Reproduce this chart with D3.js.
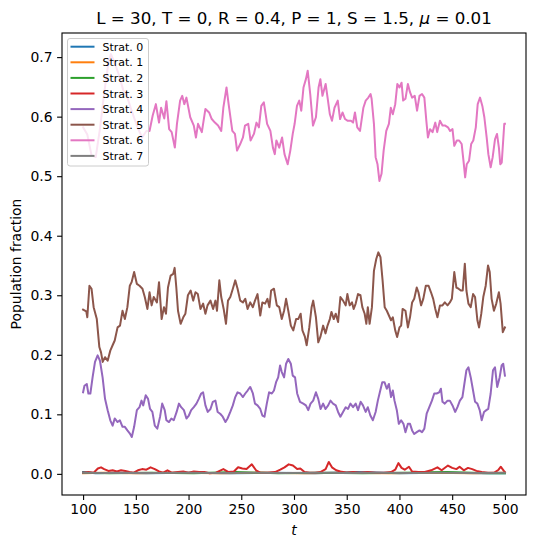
<!DOCTYPE html>
<html>
<head>
<meta charset="utf-8">
<script src="https://cdn.jsdelivr.net/npm/d3@7"></script>
<style>
  body { margin: 0; background: #fff; }
  text { font-family: "DejaVu Sans", sans-serif; }
</style>
</head>
<body>
<div id="chart"></div>
<script>
// series: [t, population fraction]
var strat0 = [[100,0.003],[112,0.001],[130,0.002],[160,0.001],[200,0.002],[240,0.001],[280,0.002],[320,0.001],[360,0.003],[400,0.001],[440,0.002],[480,0.001],[500,0.001]];
var strat1 = [[100,0.001],[120,0.002],[150,0.001],[190,0.002],[230,0.001],[270,0.002],[310,0.001],[350,0.002],[390,0.001],[430,0.002],[470,0.001],[500,0.002]];
var strat2 = [[100,0.002],[125,0.001],[165,0.002],[205,0.001],[245,0.003],[285,0.001],[325,0.002],[365,0.001],[405,0.002],[445,0.003],[485,0.001],[500,0.001]];
var strat3 = [[100,0.002],[105,0.003],[110,0.002],[114,0.009],[117,0.011],[120,0.008],[124,0.005],[128,0.006],[132,0.004],[136,0.006],[140,0.005],[144,0.003],[148,0.002],[152,0.006],[156,0.008],[160,0.007],[164,0.011],[168,0.008],[172,0.004],[176,0.002],[180,0.006],[184,0.002],[190,0.003],[195,0.004],[200,0.002],[205,0.004],[210,0.003],[215,0.003],[220,0.001],[226,0.002],[233,0.008],[238,0.003],[243,0.004],[247,0.011],[251,0.009],[255,0.008],[260,0.016],[264,0.006],[268,0.002],[275,0.002],[282,0.003],[287,0.007],[291,0.011],[295,0.016],[299,0.014],[303,0.008],[306,0.009],[310,0.003],[315,0.002],[320,0.002],[325,0.003],[330,0.008],[333,0.020],[336,0.011],[340,0.006],[344,0.004],[350,0.002],[356,0.003],[362,0.002],[370,0.003],[378,0.002],[385,0.002],[392,0.003],[396,0.007],[399,0.018],[402,0.010],[405,0.007],[409,0.012],[412,0.004],[418,0.003],[424,0.003],[430,0.006],[436,0.011],[440,0.006],[446,0.014],[450,0.010],[454,0.008],[457,0.012],[461,0.006],[465,0.010],[469,0.008],[473,0.005],[478,0.003],[484,0.002],[490,0.002],[494,0.007],[496,0.012],[499,0.005],[500,0.003]];
var strat4 = [[100,0.137],[101.3,0.148],[103.5,0.151],[105,0.135],[106.9,0.135],[109,0.162],[111.3,0.188],[113.8,0.199],[116,0.190],[118.5,0.162],[120.8,0.126],[123.3,0.107],[125.8,0.090],[128,0.081],[130,0.093],[132.7,0.087],[134.9,0.090],[137.4,0.079],[139.6,0.079],[142,0.073],[144.6,0.067],[146.2,0.062],[148.4,0.079],[151,0.107],[153.5,0.112],[155.4,0.123],[157,0.115],[159.4,0.132],[161.6,0.126],[163.5,0.109],[165.7,0.104],[168,0.081],[170.4,0.076],[173,0.096],[175,0.118],[177.4,0.107],[179,0.090],[181.4,0.087],[183.7,0.093],[186,0.090],[188.7,0.104],[190.9,0.118],[193,0.112],[195.6,0.107],[198,0.093],[200.3,0.098],[202.5,0.107],[205,0.112],[207.5,0.118],[209.7,0.126],[212,0.135],[213.8,0.137],[216,0.115],[218.2,0.104],[220.8,0.109],[223,0.121],[225.5,0.123],[227.6,0.104],[230,0.101],[232.4,0.096],[235,0.087],[237,0.093],[239.6,0.104],[242,0.115],[244.3,0.129],[246.5,0.137],[249,0.135],[251.6,0.129],[253.8,0.135],[256,0.140],[258.5,0.146],[261,0.135],[263,0.118],[265.4,0.115],[268,0.109],[270,0.098],[272,0.096],[274.2,0.118],[276.4,0.137],[279,0.135],[281,0.140],[283,0.154],[285,0.162],[286.8,0.182],[288.4,0.171],[290.6,0.162],[292.5,0.185],[294.6,0.193],[297,0.185],[298.8,0.165],[301,0.162],[303,0.135],[305.7,0.121],[308.8,0.118],[311.3,0.115],[313.5,0.107],[315.7,0.118],[318.2,0.123],[320.8,0.137],[323,0.126],[325.2,0.109],[327.6,0.118],[329.9,0.109],[332.4,0.115],[334.6,0.123],[337,0.118],[339.6,0.115],[341.8,0.104],[344,0.096],[346.5,0.104],[349,0.112],[351.2,0.109],[353.5,0.118],[356,0.112],[358.5,0.118],[360.7,0.107],[363.2,0.121],[365.4,0.115],[368,0.104],[370,0.112],[372.4,0.098],[374.8,0.090],[377.4,0.104],[379.5,0.123],[381.8,0.140],[383.7,0.154],[385.8,0.154],[388,0.143],[390,0.151],[392,0.129],[393.7,0.140],[395.3,0.123],[397.5,0.107],[399.4,0.084],[401.6,0.090],[403.8,0.084],[405.7,0.070],[408,0.084],[410,0.084],[412,0.073],[414,0.067],[416.4,0.070],[419,0.073],[421.4,0.070],[423.6,0.076],[425.8,0.101],[428.3,0.112],[430.8,0.123],[433,0.135],[435.2,0.135],[437.7,0.137],[439.3,0.143],[440.8,0.121],[443,0.118],[445.6,0.123],[447.8,0.123],[450.3,0.115],[452.8,0.104],[455,0.112],[457.3,0.123],[459.7,0.129],[461.3,0.148],[463.5,0.174],[465.4,0.179],[467.6,0.162],[469.8,0.140],[471.7,0.121],[473.9,0.118],[476.1,0.107],[478,0.090],[480.2,0.104],[482.4,0.107],[484.2,0.109],[486.5,0.135],[488.7,0.174],[490.6,0.179],[492.7,0.146],[495,0.162],[496.9,0.182],[498.4,0.185],[500,0.165]];
var strat5 = [[100,0.276],[103,0.273],[104,0.263],[106,0.316],[108,0.311],[110,0.280],[113,0.260],[115.4,0.213],[117,0.204],[118.6,0.188],[120.8,0.196],[123.3,0.190],[125.8,0.207],[128,0.216],[130,0.224],[132.7,0.246],[135,0.249],[137.4,0.274],[139.6,0.260],[142,0.280],[144.3,0.316],[146,0.322],[148.4,0.339],[151,0.319],[153.5,0.316],[156.3,0.311],[158.5,0.297],[161,0.277],[163,0.305],[165,0.283],[167,0.297],[170,0.288],[172,0.322],[174.5,0.260],[176.7,0.280],[178.6,0.269],[180.5,0.313],[183,0.333],[185.5,0.336],[186.8,0.346],[188.4,0.313],[190,0.274],[192.5,0.252],[195,0.263],[197,0.269],[199.4,0.300],[202,0.308],[204.4,0.291],[206.6,0.305],[208.8,0.302],[211.3,0.277],[213.8,0.286],[216,0.269],[218,0.283],[220.8,0.291],[223.3,0.277],[225.5,0.291],[227,0.274],[229.2,0.325],[231,0.297],[233.3,0.277],[235.5,0.252],[237.4,0.291],[239.6,0.297],[242,0.311],[244.3,0.325],[246.5,0.311],[249,0.291],[251.6,0.288],[253.8,0.294],[256,0.277],[258.5,0.288],[261,0.280],[263,0.291],[265.4,0.302],[268,0.266],[270,0.288],[272.6,0.286],[274.8,0.294],[276.7,0.280],[278.3,0.308],[281,0.311],[283.7,0.283],[286,0.280],[288.4,0.260],[290.6,0.274],[292.5,0.294],[294.6,0.274],[297,0.249],[299.3,0.241],[302,0.260],[304,0.260],[306.3,0.269],[308,0.241],[310.4,0.230],[312,0.216],[314.5,0.246],[316.7,0.280],[318.2,0.291],[320.8,0.263],[323,0.221],[325,0.230],[327.6,0.249],[329.9,0.236],[331.8,0.249],[334,0.260],[335.5,0.272],[337.7,0.260],[339.6,0.269],[341.8,0.255],[344,0.297],[346.5,0.291],[349,0.283],[350.6,0.302],[352.8,0.283],[355,0.288],[356.6,0.277],[358.5,0.286],[360.7,0.302],[363,0.300],[364.8,0.280],[367,0.269],[368.6,0.252],[370,0.280],[371.7,0.252],[373.9,0.280],[375.8,0.341],[378,0.361],[380,0.372],[382,0.364],[384,0.325],[386,0.280],[388,0.274],[390,0.266],[392,0.258],[393.7,0.263],[396,0.241],[397.8,0.230],[400,0.246],[401.6,0.249],[403,0.277],[405.7,0.274],[408,0.246],[410,0.263],[412,0.288],[414,0.294],[416.4,0.313],[418,0.305],[420.5,0.283],[422.6,0.294],[425,0.316],[427.6,0.316],[429.9,0.305],[432,0.294],[434,0.277],[436,0.263],[438.4,0.283],[440.8,0.283],[443,0.288],[445.6,0.283],[447.8,0.288],[449.7,0.294],[452,0.339],[454,0.313],[456,0.311],[458.2,0.308],[460,0.308],[462,0.353],[463.5,0.308],[465.4,0.286],[467.6,0.280],[469.8,0.302],[471.7,0.297],[473.9,0.258],[475.5,0.246],[477.6,0.269],[479.5,0.297],[481.8,0.316],[484,0.350],[485.6,0.339],[487.4,0.294],[489.6,0.274],[491.8,0.286],[494.3,0.305],[495.9,0.286],[498,0.238],[500,0.246]];
var strat6 = [[100,0.582],[104,0.570],[108,0.535],[112,0.532],[116,0.580],[120,0.640],[124,0.690],[126.4,0.705],[130,0.690],[134,0.670],[138,0.645],[142,0.632],[146,0.610],[151.6,0.582],[156,0.565],[160,0.576],[163,0.576],[166,0.602],[169,0.621],[172,0.590],[174,0.615],[177,0.597],[179,0.626],[181.6,0.579],[184,0.574],[187,0.548],[189,0.588],[192,0.627],[194,0.635],[196,0.621],[198,0.632],[201.6,0.599],[205,0.585],[207,0.565],[209,0.588],[212.6,0.574],[216,0.613],[219.5,0.607],[222,0.596],[225,0.590],[228,0.585],[231,0.576],[233,0.615],[236,0.649],[238,0.621],[241.5,0.576],[244,0.571],[246,0.543],[249,0.554],[251.6,0.565],[253.5,0.585],[256.6,0.588],[258.8,0.560],[262,0.571],[264.4,0.590],[266.7,0.582],[269,0.618],[271.4,0.624],[274.5,0.588],[277.6,0.576],[280,0.548],[281.8,0.537],[283.3,0.560],[286,0.548],[288.7,0.565],[291,0.537],[294,0.520],[296.5,0.543],[298.8,0.571],[300.6,0.588],[302.8,0.618],[305,0.627],[306.9,0.610],[309,0.649],[311.3,0.663],[313,0.677],[315.4,0.638],[318,0.585],[320.8,0.599],[323.3,0.649],[325,0.663],[327,0.635],[330,0.655],[332,0.630],[334,0.604],[336,0.593],[338.4,0.615],[341.5,0.627],[343.7,0.596],[346,0.607],[348.4,0.596],[351,0.593],[354,0.593],[356,0.590],[357.8,0.607],[360,0.582],[362.6,0.576],[365.8,0.615],[368,0.627],[370.5,0.632],[372.6,0.638],[373.6,0.630],[375.8,0.588],[377.4,0.532],[379.2,0.520],[381,0.492],[383,0.504],[385,0.543],[387.5,0.576],[390,0.588],[391.8,0.615],[393.7,0.604],[396,0.621],[398,0.655],[400,0.649],[402,0.657],[403.5,0.627],[405.7,0.630],[408,0.655],[410,0.641],[412,0.632],[414.5,0.635],[416.7,0.610],[419,0.635],[421.4,0.638],[423.6,0.632],[425.5,0.593],[427,0.565],[429,0.579],[431.4,0.574],[434,0.590],[435.8,0.574],[438.4,0.593],[440.8,0.585],[443.4,0.585],[446,0.582],[448,0.576],[450.3,0.579],[452,0.551],[454.4,0.560],[456.6,0.560],[459,0.554],[460.7,0.526],[462.3,0.498],[463.8,0.520],[466,0.526],[468,0.554],[470,0.560],[472.4,0.582],[474.2,0.621],[476.4,0.632],[478.6,0.618],[480.5,0.599],[482.7,0.565],[484.3,0.537],[486.5,0.515],[488.4,0.532],[490.6,0.562],[492.5,0.571],[494.3,0.548],[495.6,0.520],[497,0.523],[499.4,0.588],[500,0.588]];
var strat7 = [[100,0.002],[120,0.0015],[140,0.002],[170,0.0015],[200,0.002],[230,0.0015],[260,0.002],[290,0.0015],[320,0.002],[350,0.0015],[380,0.002],[410,0.0015],[440,0.002],[470,0.0015],[500,0.002]];

var seriesList = [strat0, strat1, strat2, strat3, strat4, strat5, strat6, strat7];
var seriesNames = ["Strat. 0", "Strat. 1", "Strat. 2", "Strat. 3", "Strat. 4", "Strat. 5", "Strat. 6", "Strat. 7"];
var seriesColors = ["#1f77b4", "#ff7f0e", "#2ca02c", "#d62728", "#9467bd", "#8c564b", "#e377c2", "#7f7f7f"];
var xTicks = [100, 150, 200, 250, 300, 350, 400, 450, 500];
var yTicks = [0.0, 0.1, 0.2, 0.3, 0.4, 0.5, 0.6, 0.7];

var width = 536, height = 548;
var axLeft = 62, axRight = 526, axTop = 33, axBottom = 495;

var svg = d3.select("#chart").append("svg")
        .attr("width", width)
        .attr("height", height);

var x = d3.scaleLinear().domain([80, 520]).range([axLeft, axRight]);
var y = d3.scaleLinear().domain([-0.0355, 0.7405]).range([axBottom, axTop]);

var line = d3.line()
        .x(function(d) { return x(d[0]); })
        .y(function(d) { return y(d[1]); });

var plot = svg.append("g");
for (var i = 0; i < seriesList.length; i++) {
    plot.append("path")
            .datum(seriesList[i])
            .attr("d", line)
            .attr("fill", "none")
            .attr("stroke", seriesColors[i])
            .attr("stroke-width", 2)
            .attr("stroke-linejoin", "round")
            .attr("stroke-linecap", "square");
}

// axes
var xAxis = d3.axisBottom(x).tickValues(xTicks).tickSize(4.9).tickPadding(4.5)
        .tickFormat(d3.format("d"));
var yAxis = d3.axisLeft(y).tickValues(yTicks).tickSize(4.9).tickPadding(4.5)
        .tickFormat(d3.format(".1f"));

var gx = svg.append("g").attr("transform", "translate(0," + axBottom + ")").call(xAxis);
var gy = svg.append("g").attr("transform", "translate(" + axLeft + ",0)").call(yAxis);
[gx, gy].forEach(function(g) {
    g.select(".domain").remove();
    g.selectAll(".tick line").attr("stroke", "#000").attr("stroke-width", 1.1);
    g.selectAll(".tick text")
            .attr("fill", "#000")
            .style("font-family", "DejaVu Sans")
            .style("font-size", "13.9px");
});

svg.append("rect")
        .attr("x", axLeft)
        .attr("y", axTop)
        .attr("width", axRight - axLeft)
        .attr("height", axBottom - axTop)
        .attr("fill", "none")
        .attr("stroke", "#000")
        .attr("stroke-width", 1.1);

// title and labels
var title = svg.append("text")
        .attr("x", (axLeft + axRight) / 2)
        .attr("y", 24)
        .attr("text-anchor", "middle")
        .style("font-size", "16.7px");
title.append("tspan").text("L = 30, T = 0, R = 0.4, P = 1, S = 1.5, ");
title.append("tspan").attr("font-style", "italic").text("\u03bc");
title.append("tspan").text(" = 0.01");

svg.append("text")
        .attr("x", (axLeft + axRight) / 2)
        .attr("y", 535)
        .attr("text-anchor", "middle")
        .attr("font-style", "italic")
        .style("font-size", "13.9px")
        .text("t");

svg.append("text")
        .attr("transform", "translate(21," + ((axTop + axBottom) / 2) + ") rotate(-90)")
        .attr("text-anchor", "middle")
        .style("font-size", "13.9px")
        .text("Population fraction");

// legend
var legend = svg.append("g");
legend.append("rect")
        .attr("x", 67.5)
        .attr("y", 38.5)
        .attr("width", 81)
        .attr("height", 127.5)
        .attr("rx", 2.5)
        .attr("fill", "#fff")
        .attr("fill-opacity", 0.8)
        .attr("stroke", "#cccccc")
        .attr("stroke-width", 1);
for (var j = 0; j < seriesNames.length; j++) {
    var ly = 46.7 + j * 15.6;
    legend.append("line")
            .attr("x1", 70.5)
            .attr("x2", 94.5)
            .attr("y1", ly)
            .attr("y2", ly)
            .attr("stroke", seriesColors[j])
            .attr("stroke-width", 2);
    legend.append("text")
            .attr("x", 102.5)
            .attr("y", ly + 4)
            .style("font-size", "11px")
            .attr("fill", "#000")
            .text(seriesNames[j]);
}
</script>
</body>
</html>
